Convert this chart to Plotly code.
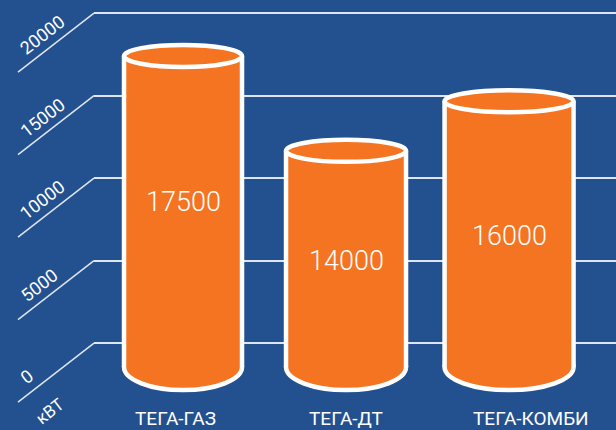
import math
import plotly.graph_objects as go

# ---- data ----
categories = ["ТЕГА-ГАЗ", "ТЕГА-ДТ", "ТЕГА-КОМБИ"]
values = [17500, 14000, 16000]          # numbers printed on the cylinders
drawn_tops = [17400, 11650, 14650]      # cylinder tops as read against the grid
tick_values = [0, 5000, 10000, 15000, 20000]
tick_labels = ["0", "5000", "10000", "15000", "20000"]
unit_label = "кВТ"

# ---- style / layout ----
W, H = 616, 430
BG = "#23518f"
ORANGE = "#f47422"
WHITE = "#ffffff"
GRID = "rgba(255,255,255,0.85)"
FONT = "Roboto"

y_range = [-5270, 20790]
units_per_px = (y_range[1] - y_range[0]) / H
x_range = [-0.546, 2.656]
x_domain = [94 / W, 1]
px_per_cat = (x_domain[1] - x_domain[0]) * W / (x_range[1] - x_range[0])

body_w = [118, 120, 129]      # px, between outline centres
top_half = 11                 # px, half height of top ellipse
bottom_half = 23              # px, half height of bottom ellipse
base_drop = 24                # px below zero gridline
base = -base_drop * units_per_px
LW = 4.5
label_yshift = [9, -2, -2]
cat_xshift = [-8, 0, 22]

fig = go.Figure()
xs = list(range(len(categories)))
fig.add_trace(go.Bar(
    x=xs,
    y=[t - base for t in drawn_tops],
    base=[base] * len(xs),
    width=[w / px_per_cat for w in body_w],
    marker=dict(color=ORANGE, line=dict(width=0)),
    hoverinfo="skip",
    showlegend=False,
))

shapes = []
for i, (t, w) in enumerate(zip(drawn_tops, body_w)):
    # bottom ellipse (under the body)
    shapes.append(dict(type="circle", layer="between",
                       xref="x", xsizemode="pixel", xanchor=i, x0=-w / 2, x1=w / 2,
                       yref="y", ysizemode="pixel", yanchor=base, y0=-bottom_half, y1=bottom_half,
                       fillcolor=ORANGE, line=dict(color=WHITE, width=LW)))
    # sides
    for sx in (-w / 2, w / 2):
        shapes.append(dict(type="line", layer="above",
                           xref="x", xsizemode="pixel", xanchor=i, x0=sx, x1=sx,
                           yref="y", y0=base, y1=t,
                           line=dict(color=WHITE, width=LW)))
    # top ellipse
    shapes.append(dict(type="circle", layer="above",
                       xref="x", xsizemode="pixel", xanchor=i, x0=-w / 2, x1=w / 2,
                       yref="y", ysizemode="pixel", yanchor=t, y0=-top_half, y1=top_half,
                       fillcolor=ORANGE, line=dict(color=WHITE, width=LW)))

# slanted grid extensions
for v in tick_values:
    shapes.append(dict(type="line", layer="below",
                       xref="paper", x0=18 / W, x1=94 / W,
                       yref="y", ysizemode="pixel", yanchor=v, y0=-59, y1=0,
                       line=dict(color=GRID, width=1.5)))

annotations = []
ang = 38
c, s = math.cos(math.radians(ang)), math.sin(math.radians(ang))
for v, lab in zip(tick_values, tick_labels):
    L = len(lab) * 10
    cx = 23 + L / 2 * c
    dy = 37 - L / 2 * s
    annotations.append(dict(text=lab, xref="paper", x=cx / W, yref="y", y=v, yshift=-dy,
                            textangle=-ang, showarrow=False, xanchor="center", yanchor="middle",
                            font=dict(family=FONT, size=18, color=WHITE)))
annotations.append(dict(text=unit_label, xref="paper", x=50 / W, yref="y", y=0, yshift=-68,
                        textangle=-ang, showarrow=False, xanchor="center", yanchor="middle",
                        font=dict(family=FONT, size=17, color=WHITE)))

for i, (v, t) in enumerate(zip(values, drawn_tops)):
    annotations.append(dict(text=str(v), x=i, y=(base + t) / 2, xref="x", yref="y",
                            yshift=label_yshift[i], showarrow=False,
                            font=dict(family=FONT, size=27, color=WHITE, weight=300)))

for i, cat in enumerate(categories):
    annotations.append(dict(text=cat, x=i, xref="x", xshift=cat_xshift[i],
                            y=1 - 418 / H, yref="paper", yanchor="middle", showarrow=False,
                            font=dict(family=FONT, size=19, color=WHITE)))

fig.update_layout(
    width=W, height=H,
    margin=dict(l=0, r=0, t=0, b=0),
    paper_bgcolor=BG, plot_bgcolor=BG,
    xaxis=dict(range=x_range, domain=x_domain, visible=False, fixedrange=True),
    yaxis=dict(range=y_range, tickvals=tick_values, showticklabels=False,
               showgrid=True, gridcolor=GRID, gridwidth=1.5, zeroline=False,
               showline=False, ticks="", fixedrange=True),
    shapes=shapes,
    annotations=annotations,
    bargap=0,
    showlegend=False,
)

fig.write_html(
    "out.html",
    config={"displayModeBar": False},
    post_script="document.body.style.margin='0';document.body.style.background='%s';" % BG,
)
